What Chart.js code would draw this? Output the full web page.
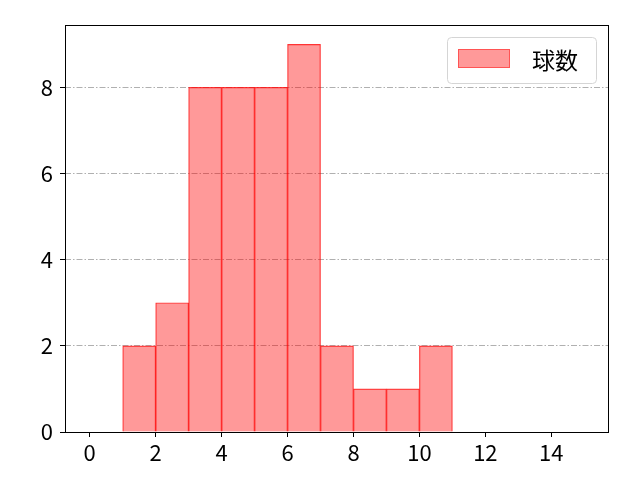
<!DOCTYPE html>
<html>
<head>
<meta charset="utf-8">
<script src="https://cdn.jsdelivr.net/npm/chart.js@4/dist/chart.umd.min.js"></script>
<style>
  html, body { margin: 0; padding: 0; background: #fff; }
  #wrap { width: 640px; height: 480px; }
</style>
</head>
<body>
<div id="wrap"><canvas id="hist"></canvas></div>
<script>
// bin centres and counts
const binCenters = [1.5, 2.5, 3.5, 4.5, 5.5, 6.5, 7.5, 8.5, 9.5, 10.5];
const counts = [2, 3, 8, 8, 8, 9, 2, 1, 1, 2];
const xTicks = [0, 2, 4, 6, 8, 10, 12, 14];
const yTicks = [0, 2, 4, 6, 8];
const seriesLabel = '球数';

const font = '"Noto Sans CJK JP", "Noto Sans", sans-serif';

// frame around the plot + legend box in matplotlib style
const framePlugin = {
    id: 'frame',
    afterDraw(chart) {
        const ctx = chart.ctx;
        const a = chart.chartArea;
        ctx.save();
        ctx.setLineDash([]);
        ctx.strokeStyle = '#000';
        ctx.lineWidth = 1;
        ctx.strokeRect(a.left + 0.5, a.top + 0.5, a.right - a.left - 1, a.bottom - a.top);

        // legend
        const ds = chart.data.datasets[0];
        const bx = a.right - 162, by = a.top + 12, bw = 149, bh = 46;
        ctx.fillStyle = 'rgba(255,255,255,0.8)';
        ctx.strokeStyle = '#d5d5d5';
        ctx.beginPath();
        ctx.roundRect(bx + 0.5, by + 0.5, bw, bh, 4);
        ctx.fill();
        ctx.stroke();
        ctx.fillStyle = ds.backgroundColor;
        ctx.fillRect(bx + 11, by + 12, 52, 19);
        ctx.strokeStyle = 'rgba(255,0,0,0.45)';
        ctx.strokeRect(bx + 11.5, by + 12.5, 51, 18);
        ctx.fillStyle = '#000';
        ctx.font = '23px ' + font;
        ctx.textBaseline = 'middle';
        ctx.fillText(ds.label, bx + 85, by + 23);
        ctx.restore();
    }
};

new Chart(document.getElementById('hist'), {
    type: 'bar',
    data: {
        datasets: [{
            label: seriesLabel,
            data: binCenters.map((x, i) => ({ x: x, y: counts[i] })),
            backgroundColor: 'rgba(255,0,0,0.4)',
            borderColor: 'rgba(255,0,0,0.75)',
            borderWidth: 0.5,
            barPercentage: 1.0,
            categoryPercentage: 1.0
        }]
    },
    options: {
        responsive: true,
        maintainAspectRatio: false,
        animation: false,
        layout: { padding: { top: 25, right: 31, left: 0, bottom: 0 } },
        plugins: {
            legend: { display: false },
            tooltip: { enabled: false }
        },
        scales: {
            x: {
                type: 'linear',
                offset: false,
                min: -0.75,
                max: 15.75,
                afterBuildTicks: s => { s.ticks = xTicks.map(v => ({ value: v })); },
                afterFit: s => { s.height = 48; },
                grid: { offset: false, drawOnChartArea: false, tickLength: 5, color: '#000' },
                border: { display: false },
                ticks: { color: '#000', font: { family: font, size: 22 }, padding: 2, maxRotation: 0 }
            },
            y: {
                min: 0,
                max: 9.45,
                afterBuildTicks: s => { s.ticks = yTicks.map(v => ({ value: v })); },
                afterFit: s => { s.width = 65; },
                grid: { color: '#b0b0b0', lineWidth: 1, tickLength: 5, tickColor: '#000', tickBorderDash: [] },
                border: { display: false, dash: [6, 2, 1.5, 2] },
                ticks: { color: '#000', font: { family: font, size: 22 }, padding: 7 }
            }
        }
    },
    plugins: [framePlugin]
});
</script>
</body>
</html>
